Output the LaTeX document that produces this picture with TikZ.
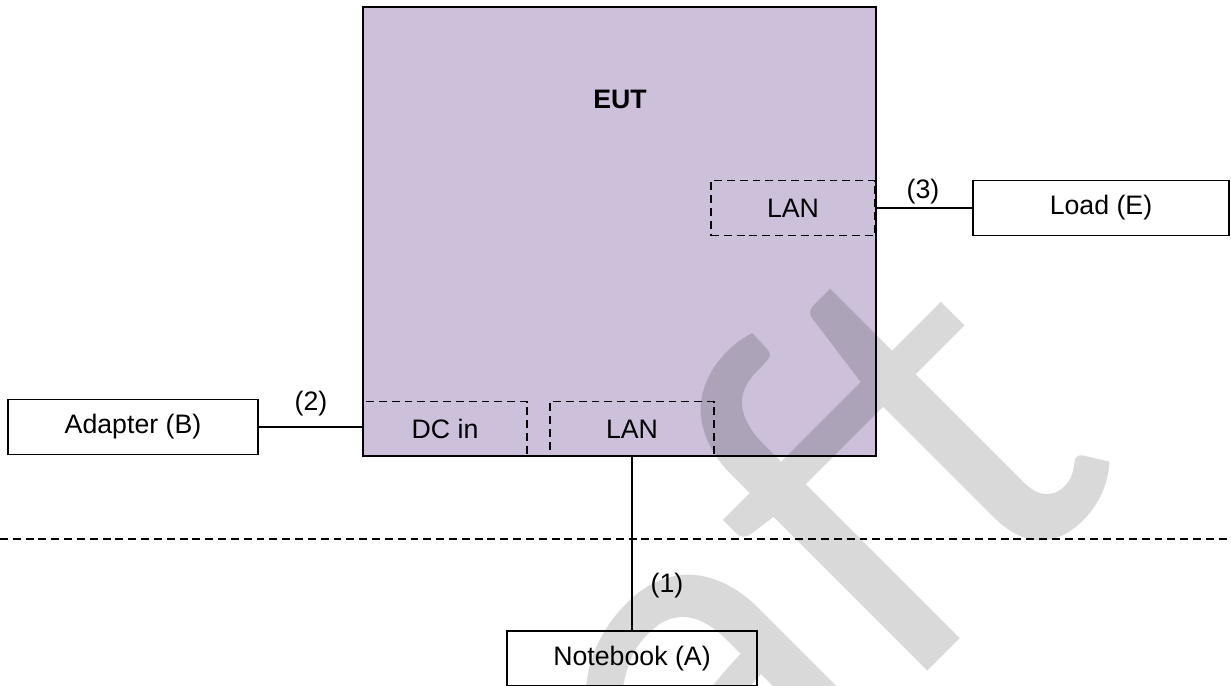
\documentclass[tikz,border=0pt]{standalone}
\usepackage{fontspec}
\setmainfont{Liberation Sans}
\newfontfamily\wmfont{Carlito}
\definecolor{eutfill}{RGB}{204,192,218}

\begin{document}
\begin{tikzpicture}
        \useasboundingbox (0,0) rectangle (24.62,13.70);
        \clip (0,0) rectangle (24.62,13.70);
        \begin{scope}[every node/.style={rectangle,draw,line width=1.1pt,font=\fontsize{15.2}{18}\selectfont}]
            \node (eut) [fill=eutfill, line width=1.4pt, minimum width=10.26cm, minimum height=8.98cm] at (12.39, 9.07) {} ;
            \node (adapter) [minimum width=5cm, minimum height=1.1cm] at (2.66, 5.16) {Adapter (B)} ;
            \node (load) [minimum width=5.12cm, minimum height=1.1cm] at (22.02, 9.54) {Load (E)} ;
            \node (notebook) [minimum width=5cm, minimum height=1.1cm] at (12.64, 0.53) {Notebook (A)} ;
        \end{scope}
        \begin{scope}[every node/.style={rectangle,draw,dashed,line width=1pt,dash pattern=on 4.5pt off 2.8pt,
                      minimum width=3.28cm, minimum height=1.1cm,font=\fontsize{15.2}{18}\selectfont}]
            \node (dcin) at (8.90, 5.12) {DC in} ;
            \node (lanb) at (12.64, 5.12) {LAN} ;
            \node (lanr) at (15.86, 9.54) {LAN} ;
        \end{scope}

        \node (eutlabel) [font=\fontsize{15.2}{18}\selectfont\bfseries] at (12.40, 11.72) {EUT} ;

        \begin{scope}[every node/.style={font=\fontsize{15.2}{18}\selectfont}]
            \draw [line width=1pt] (adapter.east) -- (adapter.east -| dcin.west);
            \draw [line width=1pt] (lanr.east) -- (lanr.east -| load.west);
            \draw [line width=1pt] (lanb.south) -- (notebook.north);
            \node (c2) at (6.22, 5.62) {(2)} ;
            \node (c3) at (18.46, 9.86) {(3)} ;
            \node (c1) at (13.34, 1.98) {(1)} ;
        \end{scope}

        % zone border
        \coordinate (zl) at (0, 2.92);
        \coordinate (zr) at (24.62, 2.92);
        \draw [line width=0.9pt, dash pattern=on 4.5pt off 2.8pt] (zl) -- (zr);

        % watermark
        \node (wm) [rotate=45, anchor=base, text=black, opacity=0.15, inner sep=0pt,
                    font=\fontsize{305}{305}\wmfont] at (18.46, 0.18) {aft} ;
\end{tikzpicture}
\end{document}
